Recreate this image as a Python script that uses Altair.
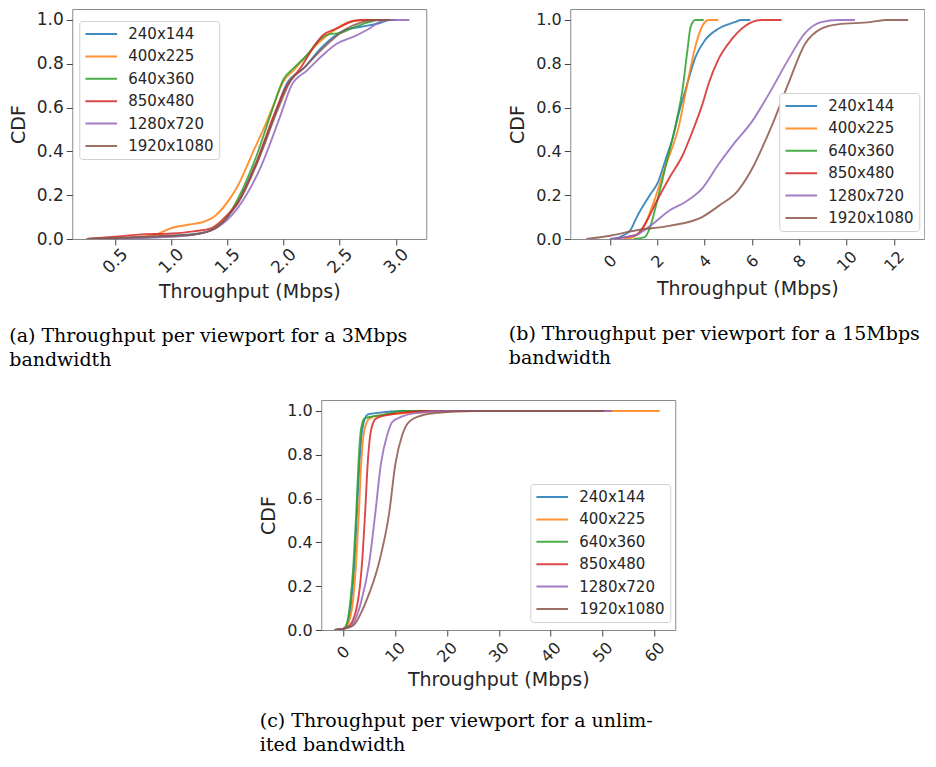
import altair as alt
import pandas as pd

CATEGORIES = ["240x144", "400x225", "640x360", "850x480", "1280x720", "1920x1080"]
COLORS = ["#1f77b4", "#ff7f0e", "#2ca02c", "#d62728", "#9467bd", "#8c564b"]

# ---------------- panel (a): 3 Mbps ----------------
A_240_X = [0.25, 0.6, 1.0, 1.3, 1.42, 1.53, 1.59, 1.76, 1.91, 2.03, 2.18, 2.35, 2.53, 2.7, 2.85, 2.94, 3.0]
A_240_Y = [0, 0.005, 0.015, 0.03, 0.06, 0.12, 0.165, 0.35, 0.55, 0.71, 0.78, 0.88, 0.95, 0.97, 0.985, 1.0, 1.0]
A_400_X = [0.25, 0.71, 0.86, 1.0, 1.15, 1.3, 1.39, 1.53, 1.59, 1.74, 1.82, 1.91, 2.0, 2.09, 2.21, 2.32, 2.47, 2.62, 2.76, 2.9]
A_400_Y = [0, 0.008, 0.02, 0.05, 0.065, 0.08, 0.105, 0.19, 0.24, 0.41, 0.5, 0.61, 0.72, 0.77, 0.84, 0.90, 0.96, 0.995, 1.0, 1.0]
A_640_X = [0.25, 0.9, 1.2, 1.35, 1.5, 1.59, 1.76, 1.88, 2.0, 2.09, 2.21, 2.32, 2.41, 2.5, 2.62, 2.76, 2.85, 2.92]
A_640_Y = [0, 0.01, 0.02, 0.04, 0.1, 0.18, 0.38, 0.56, 0.73, 0.78, 0.84, 0.91, 0.935, 0.94, 0.965, 0.99, 1.0, 1.0]
A_850_X = [0.25, 0.5, 0.71, 1.0, 1.2, 1.36, 1.5, 1.59, 1.76, 1.91, 2.03, 2.15, 2.26, 2.35, 2.47, 2.62, 2.7, 2.88]
A_850_Y = [0, 0.01, 0.02, 0.025, 0.035, 0.05, 0.11, 0.165, 0.35, 0.56, 0.70, 0.78, 0.87, 0.93, 0.96, 0.995, 1.0, 1.0]
A_1280_X = [0.25, 1.0, 1.2, 1.4, 1.59, 1.79, 1.97, 2.07, 2.21, 2.35, 2.47, 2.65, 2.76, 2.85, 2.91, 3.12]
A_1280_Y = [0, 0.01, 0.02, 0.05, 0.14, 0.32, 0.56, 0.70, 0.77, 0.84, 0.89, 0.93, 0.96, 0.99, 1.0, 1.0]
A_1920_X = [0.25, 1.0, 1.2, 1.4, 1.53, 1.59, 1.76, 1.94, 2.06, 2.18, 2.35, 2.56, 2.7, 2.82, 2.95]
A_1920_Y = [0, 0.015, 0.02, 0.05, 0.12, 0.16, 0.34, 0.58, 0.72, 0.78, 0.87, 0.96, 0.99, 1.0, 1.0]

# ---------------- panel (b): 15 Mbps ----------------
B_240_X = [0.0, 0.44, 0.86, 1.13, 1.68, 2.03, 2.37, 2.65, 2.92, 3.27, 3.61, 4.03, 4.58, 5.27, 5.54, 5.93]
B_240_Y = [0, 0.01, 0.04, 0.10, 0.20, 0.26, 0.37, 0.46, 0.58, 0.71, 0.83, 0.91, 0.96, 0.99, 1.0, 1.0]
B_400_X = [0.6, 0.99, 1.41, 1.82, 2.37, 2.92, 3.27, 3.61, 3.89, 4.17, 4.58]
B_400_Y = [0, 0.01, 0.05, 0.16, 0.34, 0.52, 0.71, 0.88, 0.97, 1.0, 1.0]
B_640_X = [1.0, 1.48, 1.68, 1.96, 2.37, 2.79, 3.06, 3.27, 3.41, 3.61, 3.96]
B_640_Y = [0, 0.01, 0.05, 0.16, 0.34, 0.53, 0.68, 0.86, 0.97, 1.0, 1.0]
B_850_X = [0.2, 0.44, 1.13, 1.54, 1.96, 2.51, 3.06, 3.48, 3.89, 4.17, 4.58, 5.13, 5.68, 6.37, 7.25]
B_850_Y = [0, 0.005, 0.02, 0.08, 0.17, 0.28, 0.38, 0.49, 0.61, 0.71, 0.82, 0.91, 0.97, 1.0, 1.0]
B_1280_X = [0.0, 1.13, 1.82, 2.51, 3.2, 3.89, 4.58, 5.27, 5.96, 6.65, 7.54, 8.24, 8.93, 9.63, 10.35]
B_1280_Y = [0, 0.02, 0.07, 0.13, 0.17, 0.23, 0.34, 0.44, 0.53, 0.65, 0.82, 0.94, 0.99, 1.0, 1.0]
B_1920_X = [-1.0, 0.0, 1.13, 2.51, 3.89, 4.58, 5.4, 6.1, 6.65, 6.85, 7.54, 8.24, 8.93, 9.63, 11.0, 11.7, 12.6]
B_1920_Y = [0, 0.015, 0.04, 0.06, 0.10, 0.15, 0.22, 0.34, 0.47, 0.52, 0.71, 0.89, 0.96, 0.98, 0.99, 1.0, 1.0]

# ---------------- panel (c): unlimited ----------------
C_240_X = [-1.6, 0.0, 0.63, 1.58, 2.2, 2.66, 3.16, 3.67, 4.7, 6.3, 12.0, 17.2]
C_240_Y = [0, 0.005, 0.02, 0.13, 0.31, 0.53, 0.76, 0.91, 0.983, 0.99, 1.0, 1.0]
C_400_X = [-1.6, 0.0, 0.8, 1.9, 2.53, 3.04, 3.5, 4.1, 5.06, 7.0, 12.0, 25.0, 61.0]
C_400_Y = [0, 0.005, 0.02, 0.13, 0.31, 0.53, 0.76, 0.91, 0.965, 0.98, 0.99, 1.0, 1.0]
C_640_X = [-1.6, 0.0, 0.6, 1.39, 2.03, 2.53, 2.97, 3.42, 4.1, 5.7, 7.3, 11.4, 20.0]
C_640_Y = [0, 0.005, 0.02, 0.13, 0.31, 0.53, 0.76, 0.91, 0.965, 0.975, 0.98, 1.0, 1.0]
C_850_X = [-1.6, 0.0, 1.27, 2.85, 3.67, 4.24, 4.75, 5.38, 6.33, 8.2, 10.8, 16.0, 25.5]
C_850_Y = [0, 0.005, 0.02, 0.13, 0.31, 0.53, 0.76, 0.91, 0.965, 0.98, 0.99, 1.0, 1.0]
C_1280_X = [-1.6, 0.0, 1.58, 3.5, 5.06, 6.2, 7.3, 8.5, 9.5, 11.4, 13.9, 20.0, 51.8]
C_1280_Y = [0, 0.005, 0.02, 0.13, 0.31, 0.53, 0.76, 0.89, 0.95, 0.975, 0.99, 1.0, 1.0]
C_1920_X = [-1.6, 0.0, 1.9, 4.43, 6.96, 8.86, 10.1, 11.4, 12.7, 14.6, 17.7, 25.0, 50.3]
C_1920_Y = [0, 0.005, 0.02, 0.13, 0.31, 0.53, 0.76, 0.89, 0.95, 0.975, 0.99, 1.0, 1.0]

A_TICKS = [0.5, 1.0, 1.5, 2.0, 2.5, 3.0]
B_TICKS = [0, 2, 4, 6, 8, 10, 12]
C_TICKS = [0, 10, 20, 30, 40, 50, 60]
Y_TICKS = [0.0, 0.2, 0.4, 0.6, 0.8, 1.0]

CAP_A = ["(a) Throughput per viewport for a 3Mbps", "bandwidth"]
CAP_B = ["(b) Throughput per viewport for a 15Mbps", "bandwidth"]
CAP_C = ["(c) Throughput per viewport for a unlim-", "ited bandwidth"]

W, H = 354, 230
TXT = "#262626"


def make_df(xs_list, ys_list):
    rows = []
    for cat, xs, ys in zip(CATEGORIES, xs_list, ys_list):
        for i, (x, y) in enumerate(zip(xs, ys)):
            rows.append({"res": cat, "x": x, "y": y, "idx": i})
    return pd.DataFrame(rows)


def panel(df, xdom, xticks, xfmt, ylab_fs, lx, ly, caption, cap_offset):
    return alt.Chart(df).mark_line(
        interpolate="monotone", strokeWidth=1.9, opacity=0.85, clip=True
    ).encode(
        x=alt.X("x:Q", title="Throughput (Mbps)",
                scale=alt.Scale(domain=xdom, nice=False, zero=False),
                axis=alt.Axis(values=xticks, format=xfmt, labelAngle=315,
                              labelAlign="center", labelBaseline="middle",
                              labelPadding=16, labelFontSize=ylab_fs,
                              titlePadding=6)),
        y=alt.Y("y:Q", title="CDF",
                scale=alt.Scale(domain=[0, 1.05], nice=False, zero=False),
                axis=alt.Axis(values=Y_TICKS, format=".1f", labelFontSize=ylab_fs,
                              labelPadding=3, titlePadding=8)),
        color=alt.Color("res:N", title=None,
                        scale=alt.Scale(domain=CATEGORIES, range=COLORS),
                        legend=alt.Legend(orient="none", legendX=lx, legendY=ly,
                                          symbolType="stroke", symbolSize=1000,
                                          symbolStrokeWidth=2, symbolOpacity=0.85,
                                          clipHeight=16,
                                          labelFontSize=15, labelFont="DejaVu Sans",
                                          labelColor=TXT, labelOffset=10,
                                          rowPadding=6.4, padding=5,
                                          fillColor="white", strokeColor="#d0d0d0",
                                          cornerRadius=3)),
        detail="res:N",
        order="idx:Q",
    ).properties(
        width=W, height=H,
        title=alt.TitleParams(caption, orient="bottom", anchor="start", frame="bounds",
                              font="DejaVu Serif", fontSize=19, fontWeight="normal",
                              color="black", lineHeight=24, offset=cap_offset),
    )


dfa = make_df([A_240_X, A_400_X, A_640_X, A_850_X, A_1280_X, A_1920_X],
              [A_240_Y, A_400_Y, A_640_Y, A_850_Y, A_1280_Y, A_1920_Y])
dfb = make_df([B_240_X, B_400_X, B_640_X, B_850_X, B_1280_X, B_1920_X],
              [B_240_Y, B_400_Y, B_640_Y, B_850_Y, B_1280_Y, B_1920_Y])
dfc = make_df([C_240_X, C_400_X, C_640_X, C_850_X, C_1280_X, C_1920_X],
              [C_240_Y, C_400_Y, C_640_Y, C_850_Y, C_1280_Y, C_1920_Y])

pa = panel(dfa, [0.12, 3.27], A_TICKS, ".1f", 17, 7, 12, CAP_A, 26)
pb = panel(dfb, [-1.68, 13.28], B_TICKS, "d", 16, W - 7 - 138, H - 8 - 138, CAP_B, 26)
pc = panel(dfc, [-4.2, 64], C_TICKS, "d", 16, W - 7 - 138, H - 8 - 138, CAP_C, 22)

top = alt.hconcat(pa, pb, spacing=81).resolve_scale(color="independent").resolve_legend(color="independent")
chart = alt.vconcat(top, pc, spacing=28, center=True).resolve_scale(
    color="independent").resolve_legend(color="independent").properties(
    padding=0
).configure_axis(
    labelFont="DejaVu Sans", titleFont="DejaVu Sans", labelColor=TXT, titleColor=TXT,
    titleFontSize=19, titleFontWeight="normal", grid=False, domain=False,
    tickColor="#444444", tickSize=6, tickWidth=1, labelFlush=False, labelOverlap=False
).configure_view(stroke="#8a8a8a", strokeWidth=1)

chart.save("out.html", embed_options={"renderer": "svg", "actions": False})
